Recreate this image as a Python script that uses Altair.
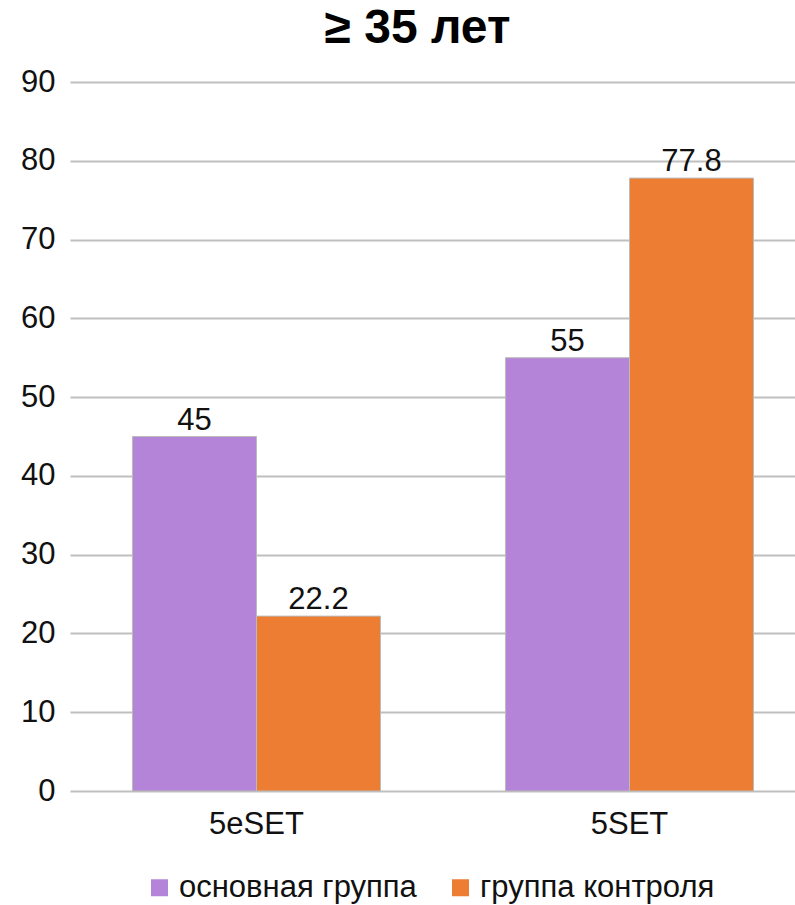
import altair as alt
import pandas as pd

# Chart data
categories = ["5eSET", "5SET"]
groups = ["основная группа", "группа контроля"]
main_values = [45, 55]
control_values = [22.2, 77.8]
group_colors = ["#B384D8", "#EC7D32"]
y_ticks = [0, 10, 20, 30, 40, 50, 60, 70, 80, 90]

rows = []
for i, cat in enumerate(categories):
    rows.append({"cat": cat, "group": groups[0], "value": main_values[i]})
    rows.append({"cat": cat, "group": groups[1], "value": control_values[i]})
df = pd.DataFrame(rows)

FONT = "Liberation Sans"
TEXT = "#111111"
FS = 31

x = alt.X(
    "cat:N",
    sort=categories,
    scale=alt.Scale(range=[2, 748], paddingInner=0.335, paddingOuter=0.1675),
    axis=alt.Axis(
        title=None, labelAngle=0, labelFontSize=FS, labelFont=FONT,
        labelColor=TEXT, labelPadding=42, labelBaseline="alphabetic",
        ticks=False, tickSize=0, domain=False, grid=False,
    ),
)
x_off = alt.XOffset("group:N", sort=groups,
                    scale=alt.Scale(paddingInner=0, paddingOuter=0))
y = alt.Y(
    "value:Q",
    scale=alt.Scale(domain=[0, 90], nice=False),
    axis=alt.Axis(
        title=None, values=y_ticks, labelFontSize=FS, labelFont=FONT,
        labelColor=TEXT, labelPadding=13, ticks=False, tickSize=0,
        domain=False, gridColor="#BFBFBF", gridWidth=2,
    ),
)
color = alt.Color(
    "group:N",
    sort=groups,
    scale=alt.Scale(domain=groups, range=group_colors),
    legend=alt.Legend(
        title=None, orient="none", legendX=76, legendY=790,
        direction="horizontal", symbolType="square", symbolSize=289,
        symbolStrokeWidth=0, labelFontSize=FS, labelFont=FONT,
        labelColor=TEXT, labelOffset=4, columnPadding=28, labelLimit=400,
    ),
)

bars = alt.Chart(df).mark_bar(stroke="#BBBBBB", strokeWidth=1).encode(
    x=x, xOffset=x_off, y=y, color=color
)
labels = alt.Chart(df).mark_text(
    baseline="alphabetic", dy=-7, fontSize=FS, font=FONT, color=TEXT
).encode(x=x, xOffset=x_off, y=y, text="value:N")

chart = (
    (bars + labels)
    .properties(
        width=727,
        height=709,
        title=alt.TitleParams(
            "≥ 35 лет", fontSize=48, font=FONT, fontWeight="bold",
            color="#000000", dx=-14, offset=13, anchor="middle",
        ),
        autosize=alt.AutoSizeParams(type="none"),
        padding={"left": 68, "top": 82, "right": 0, "bottom": 114},
    )
    .configure_view(stroke=None)
)

chart.save("out.html", embed_options={"renderer": "svg", "actions": False})
